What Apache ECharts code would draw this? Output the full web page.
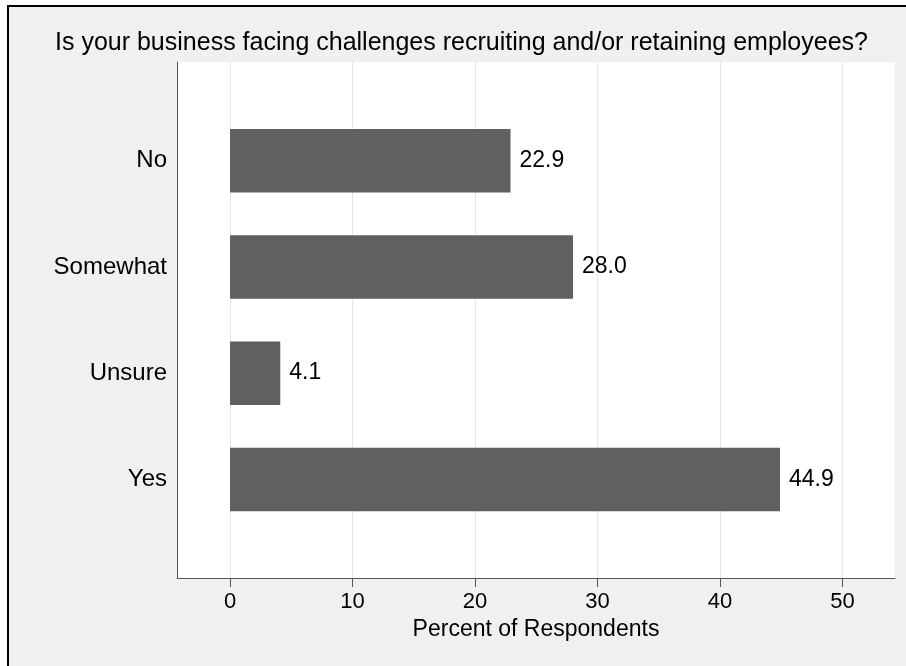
<!DOCTYPE html>
<html>
<head>
<meta charset="utf-8">
<script src="https://cdn.jsdelivr.net/npm/echarts@6/dist/echarts.min.js"></script>
<style>
html,body{margin:0;padding:0;background:#fff;}
#chart{width:906px;height:666px;}
</style>
</head>
<body>
<div id="chart"></div>
<script>
var titleText = 'Is your business facing challenges recruiting and/or retaining employees?';
var categories = ['No', 'Somewhat', 'Unsure', 'Yes'];
var percents = [22.9, 28.0, 4.1, 44.9];
var xTicks = [0, 10, 20, 30, 40, 50];
var xName = 'Percent of Respondents';

var FONT = 'Liberation Sans, Arial, Helvetica, sans-serif';
var XMIN = -4.33, XMAX = 54.29;

var chart = echarts.init(document.getElementById('chart'), null, {renderer: 'canvas'});
chart.setOption({
  backgroundColor: '#ffffff',
  animation: false,
  graphic: [{
    type: 'rect', z: -10, silent: true,
    shape: {x: 8, y: 6, width: 1000, height: 1000},
    style: {fill: '#f0f0f0', stroke: '#000000', lineWidth: 2}
  }],
  title: {
    text: titleText,
    left: 55,
    top: 31,
    padding: 0,
    textStyle: {fontFamily: FONT, fontSize: 25, fontWeight: 'normal', color: '#000'}
  },
  grid: [
    {left: 177, right: 11, top: 62, bottom: 88, show: true, backgroundColor: '#ffffff', borderWidth: 0, containLabel: false},
    {left: 177, right: 11, top: 107.5, bottom: 133.5, show: false, containLabel: false}
  ],
  xAxis: [{
    gridIndex: 0, type: 'value', min: XMIN, max: XMAX,
    name: xName, nameLocation: 'middle', nameGap: 37,
    nameTextStyle: {fontFamily: FONT, fontSize: 23, color: '#000'},
    axisLine: {show: true, onZero: false, lineStyle: {color: '#555555', width: 1}},
    axisTick: {show: true, customValues: xTicks, length: 9, inside: false, lineStyle: {color: '#555555', width: 1}},
    axisLabel: {customValues: xTicks, margin: 13, fontFamily: FONT, fontSize: 22, color: '#000'},
    splitLine: {show: true, lineStyle: {color: '#e6e6e6', width: 1}}
  }, {
    gridIndex: 1, type: 'value', min: XMIN, max: XMAX, show: false,
    splitLine: {show: false}
  }],
  yAxis: [{
    gridIndex: 0, type: 'value', min: 0, max: 1,
    axisLine: {show: true, onZero: false, lineStyle: {color: '#555555', width: 1}},
    axisTick: {show: false}, axisLabel: {show: false}, splitLine: {show: false}
  }, {
    gridIndex: 1, type: 'category', data: categories, inverse: true,
    axisLine: {show: false, onZero: false}, axisTick: {show: false},
    axisLabel: {margin: 10, fontFamily: FONT, fontSize: 24, color: '#000'},
    splitLine: {show: false}
  }],
  series: [{
    type: 'bar', xAxisIndex: 1, yAxisIndex: 1,
    data: percents, barWidth: 63.5,
    itemStyle: {color: '#606060'},
    label: {
      show: true, position: 'right', distance: 9,
      fontFamily: FONT, fontSize: 23, color: '#000',
      formatter: function (p) { return p.value.toFixed(1); }
    }
  }]
});
</script>
</body>
</html>
